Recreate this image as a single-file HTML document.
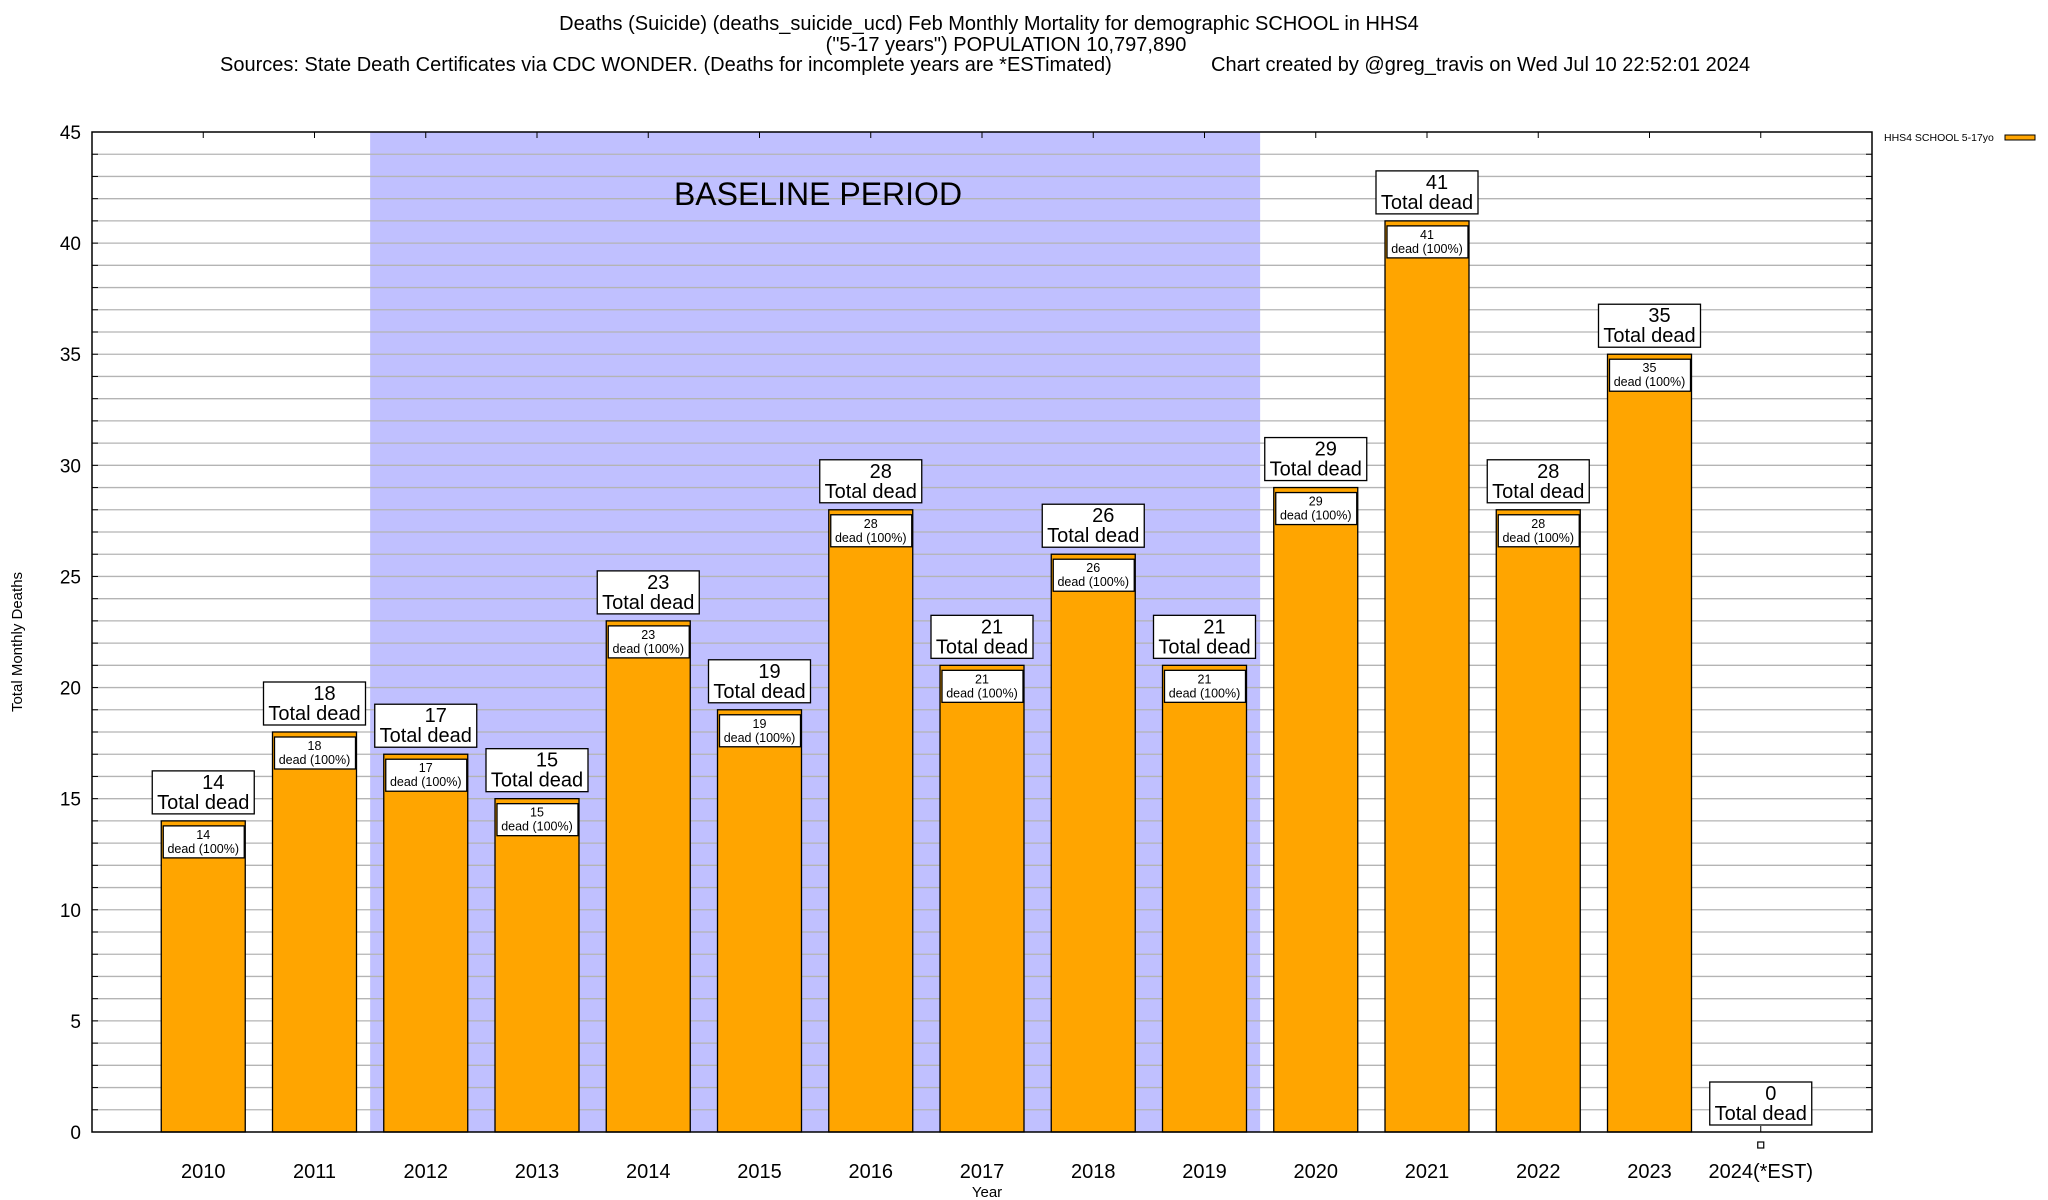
<!DOCTYPE html>
<html><head><meta charset="utf-8">
<style>
html,body{margin:0;padding:0;background:#fff;}
svg{display:block;font-family:"Liberation Sans",sans-serif;}
</style></head>
<body>
<svg id="chart" width="2048" height="1200" viewBox="0 0 2048 1200">
<g font-size="20" fill="#000">
<text x="989" y="30" text-anchor="middle">Deaths (Suicide) (deaths_suicide_ucd) Feb Monthly Mortality for demographic SCHOOL in HHS4</text>
<text x="1006" y="51" text-anchor="middle">("5-17 years") POPULATION 10,797,890</text>
<text x="220" y="71">Sources: State Death Certificates via CDC WONDER. (Deaths for incomplete years are *ESTimated)</text>
<text x="1211" y="71">Chart created by @greg_travis on Wed Jul 10 22:52:01 2024</text>
</g>
<g id="plot"></g>
<text x="22" y="642" font-size="15" text-anchor="middle" transform="rotate(-90 22 642)">Total Monthly Deaths</text>
<text x="987" y="1197" font-size="15" text-anchor="middle">Year</text>
<g>
<text x="1884" y="141" font-size="10.5">HHS4 SCHOOL 5-17yo</text>
<rect x="2005" y="135" width="30" height="5" fill="#ffa500" stroke="#000" stroke-width="1"/>
</g>
</svg>
<script>
const categories=["2010","2011","2012","2013","2014","2015","2016","2017","2018","2019","2020","2021","2022","2023","2024(*EST)"];
const values=[14,18,17,15,23,19,28,21,26,21,29,41,28,35,0];
const yTicks=[0,5,10,15,20,25,30,35,40,45];
const baselineRange=[2,9];
const NS="http://www.w3.org/2000/svg";
const L=92,R=1872,T=132,B=1132,YMAX=45;
const xs=i=>L+(i+1)*(R-L)/16;
const ys=v=>B-v*(B-T)/YMAX;
const plot=document.getElementById('plot');
function mk(tag,attrs,parent,text){const e=document.createElementNS(NS,tag);for(const k in attrs)e.setAttribute(k,attrs[k]);if(text!==undefined)e.textContent=text;(parent||plot).appendChild(e);return e;}
const uw=(R-L)/16;
let sh=mk('rect',{x:xs(baselineRange[0])-uw/2,y:T,width:(baselineRange[1]-baselineRange[0]+1)*uw,height:B-T,fill:'#c0c0ff'});


for(let v=1;v<YMAX;v++){
  const g=mk('line',{x1:L,x2:R,y1:ys(v),y2:ys(v),stroke:'#b4b4b4','stroke-width':1.3});
  
  
  mk('line',{x1:L,x2:L+6,y1:ys(v),y2:ys(v),stroke:'#000'});
  mk('line',{x1:R,x2:R-6,y1:ys(v),y2:ys(v),stroke:'#000'});
}
let bt=mk('text',{x:818,y:205,'font-size':32,'text-anchor':'middle'},plot,'BASELINE PERIOD');


yTicks.forEach(v=>{
  const t=mk('text',{x:81,y:ys(v)+7,'font-size':19,'text-anchor':'end'},plot,String(v));
  
  
});
categories.forEach((c,i)=>{
  mk('line',{x1:xs(i),x2:xs(i),y1:B,y2:B-6,stroke:'#000'});
  mk('line',{x1:xs(i),x2:xs(i),y1:T,y2:T+6,stroke:'#000'});
  const t=mk('text',{x:xs(i),y:1178,'font-size':20,'text-anchor':'middle'},plot,c);
  
  
});
const bw=uw*0.755;
values.forEach((v,i)=>{
  const cx=xs(i),top=ys(v);
  if(v>0){
    const b=mk('rect',{x:cx-bw/2,y:top,width:bw,height:B-top,fill:'#ffa500',stroke:'#000','stroke-width':1.3});
    
    
    const ib=mk('rect',{x:cx-bw/2+2,y:top+5,width:bw-3,height:32,fill:'#fff',stroke:'#000','stroke-width':1.3});
    
    
    const t1=mk('text',{x:cx,y:top+18,'font-size':12.5,'text-anchor':'middle'},plot,String(v));
    
    
    const t2=mk('text',{x:cx,y:top+32,'font-size':12.5,'text-anchor':'middle'},plot,'dead (100%)');
    
    
  } else {
    const m=mk('rect',{x:cx-3,y:B+10,width:6,height:6,fill:'#fff',stroke:'#000','stroke-width':1.2});
    
    
  }
  const ob=top-7;
  const o=mk('rect',{x:cx-51,y:ob-43,width:102,height:43,fill:'#fff',stroke:'#000','stroke-width':1.3});
  
  
  const a=mk('text',{x:cx+10,y:ob-25,'font-size':20,'text-anchor':'middle'},plot,String(v));
  
  
  const b2=mk('text',{x:cx,y:ob-5,'font-size':20,'text-anchor':'middle'},plot,'Total dead');
  
  
});
const fr=mk('rect',{x:L,y:T,width:R-L,height:B-T,fill:'none',stroke:'#000','stroke-width':1.5});


</script>
</body></html>
